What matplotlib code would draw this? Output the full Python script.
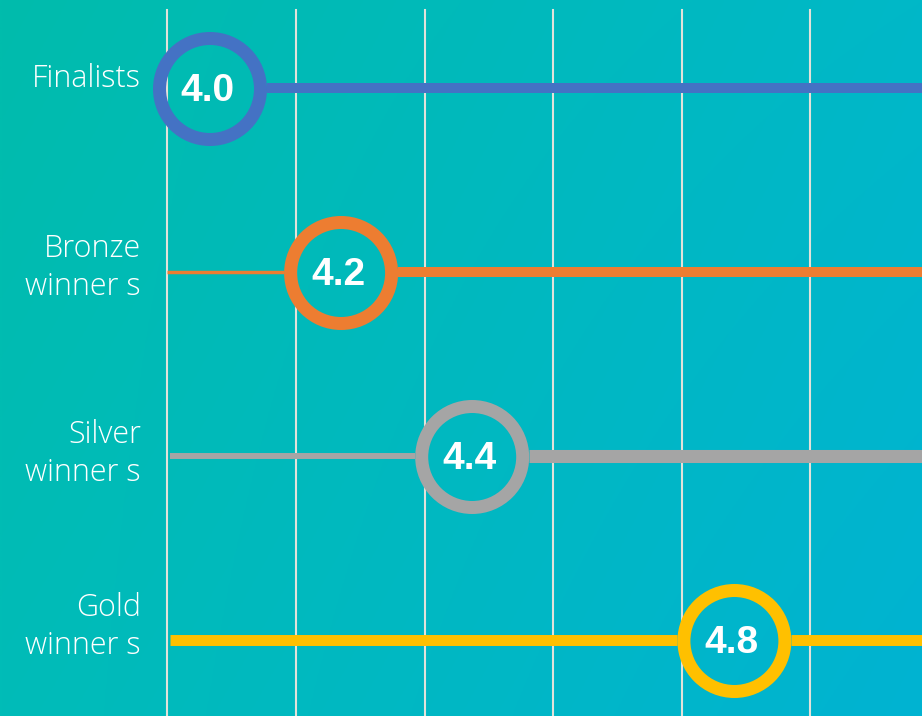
import numpy as np
import matplotlib
matplotlib.use("Agg")
import matplotlib.pyplot as plt

# award groups and their average scores
groups = ["Finalists", "Bronze\nwinner s", "Silver\nwinner s", "Gold\nwinner s"]
scores = [4.0, 4.2, 4.4, 4.8]
colors = ["#4472C4", "#ED7D31", "#A5A5A5", "#FFC000"]

# line widths (pt) before / after the circle
lw_left = [7.2, 2.5, 4.3, 7.9]
lw_right = [7.2, 7.2, 9.4, 7.9]

W, H = 922, 716
fig = plt.figure(figsize=(W / 100, H / 100), dpi=100)
ax = fig.add_axes([0, 0, 1, 1])

# value scale: pixels per unit, 4.0 sits 210px from the left
ppu = 655.5
xmin = 4.0 - 210 / ppu
xmax = xmin + W / ppu
ax.set_xlim(xmin, xmax)
# rows 184px apart, first one 88px from the top
ax.set_ylim((H - 88) / 184, -88 / 184)
ax.axis("off")

# diagonal teal -> blue background
tl = np.array([0, 188, 172]) / 255
tr = np.array([0, 184, 200]) / 255
bl = np.array([0, 188, 184]) / 255
br = np.array([0, 179, 210]) / 255
u = np.linspace(0, 1, 300)[None, :, None]
v = np.linspace(0, 1, 240)[:, None, None]
bg = (1 - v) * ((1 - u) * tl + u * tr) + v * ((1 - u) * bl + u * br)
ax.imshow(bg, extent=[0, 1, 0, 1], transform=ax.transAxes, aspect="auto",
          origin="upper", zorder=0)

# vertical guide lines
for gx in [167, 296, 425, 553, 682, 810]:
    ax.plot([gx / W, gx / W], [0, 1 - 10 / H], transform=ax.transAxes,
            color="#e2e2da", lw=1.5, zorder=1)

r = 57 / ppu
starts = [167, 167, 170, 170]
for i, (name, s, c) in enumerate(zip(groups, scores, colors)):
    x0 = xmin + starts[i] / ppu
    if s - r > x0:
        ax.plot([x0, s - r], [i, i], color=c, lw=lw_left[i],
                solid_capstyle="butt", zorder=2)
    ax.plot([s + r, xmax], [i, i], color=c, lw=lw_right[i],
            solid_capstyle="butt", zorder=2)
    ax.scatter([s], [i + 1 / 184], s=(2 * 50.5 / 1.389) ** 2, facecolor="none",
               edgecolor=c, linewidth=13 / 1.389, zorder=3)
    ax.text(s - 3 / ppu, i + 3 / 184, f"{s:.1f}", ha="center", va="center",
            color="white", fontsize=28, fontweight="bold",
            family="Liberation Sans", zorder=4)

# row labels, one baseline per line
baselines = [[-1], [-15, 23], [-13, 25], [-24, 14]]
for i, name in enumerate(groups):
    for line, dy in zip(name.split("\n"), baselines[i]):
        ax.text(141 / W, 1 - (88 + 184 * i + dy) / H, line,
                transform=ax.transAxes, ha="right", va="baseline",
                color="white", fontsize=22, family="Open Sans",
                fontweight="light")

fig.savefig("out.png", dpi=100)
